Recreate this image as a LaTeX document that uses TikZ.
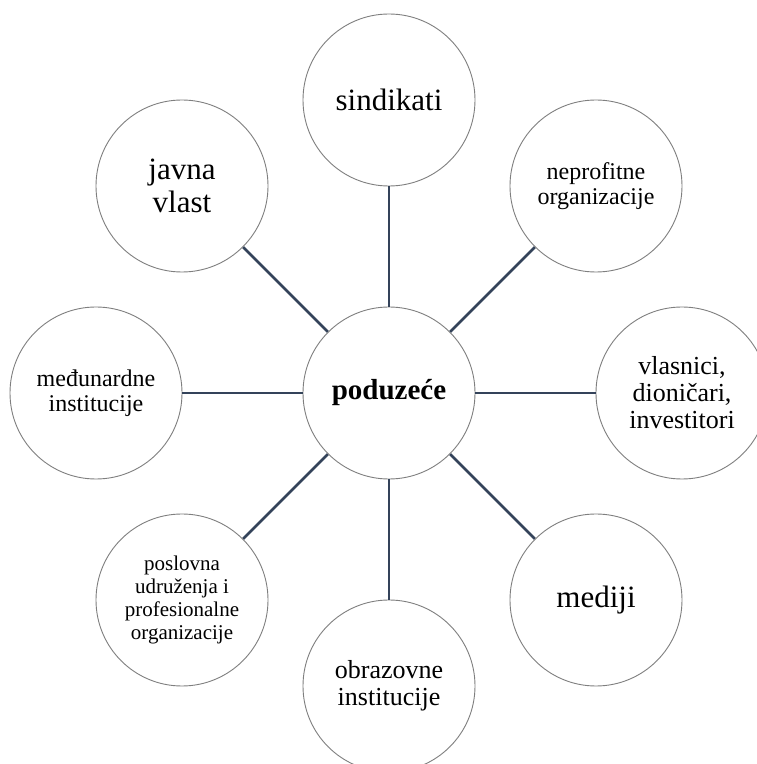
\documentclass[tikz,border=0pt]{standalone}
\usepackage{fontspec}
\setmainfont{Liberation Serif}
\usepackage{tikz}

\definecolor{linkslate}{HTML}{34435A}
\definecolor{rimgray}{HTML}{7F7F7F}

\newcommand{\fs}[2]{\fontsize{#1}{#2}\selectfont}

\begin{document}
\begin{tikzpicture}[x=1pt, y=1pt,
	party/.style={circle, draw=rimgray, line width=0.9pt, fill=white, minimum size=172pt, inner sep=0pt, align=center},
	link/.style={draw=linkslate, line width=2.8pt}]
	\clip (0,0) rectangle (757,764);
	\fill[white] (0,0) rectangle (757,764);
	% central firm
	\node[party, font=\fs{29}{31}\bfseries] (firm) at (389,371) {poduzeće};
	% stakeholders, clockwise from the top
	\node[party, font=\fs{31}{33}] (unions) at (389,664) {sindikati};
	\node[party, font=\fs{24}{25}] (ngo) at (596,578) {neprofitne\\organizacije};
	\node[party, font=\fs{26}{27}] (owners) at (682,371) {vlasnici,\\dioničari,\\investitori};
	\node[party, font=\fs{31}{33}] (media) at (596,164) {mediji};
	\node[party, font=\fs{26}{27}] (schools) at (389,78) {obrazovne\\institucije};
	\node[party, font=\fs{21}{23}] (assoc) at (182,164) {poslovna\\udruženja i\\profesionalne\\organizacije};
	\node[party, font=\fs{24}{25}] (intl) at (96,371) {međunardne\\institucije};
	\node[party, font=\fs{31}{33}] (gov) at (182,578) {javna\\vlast};
	% spokes
	\draw[link] (firm) -- (unions);
	\draw[link] (firm) -- (ngo);
	\draw[link] (firm) -- (owners);
	\draw[link] (firm) -- (media);
	\draw[link] (firm) -- (schools);
	\draw[link] (firm) -- (assoc);
	\draw[link] (firm) -- (intl);
	\draw[link] (firm) -- (gov);
\end{tikzpicture}
\end{document}
